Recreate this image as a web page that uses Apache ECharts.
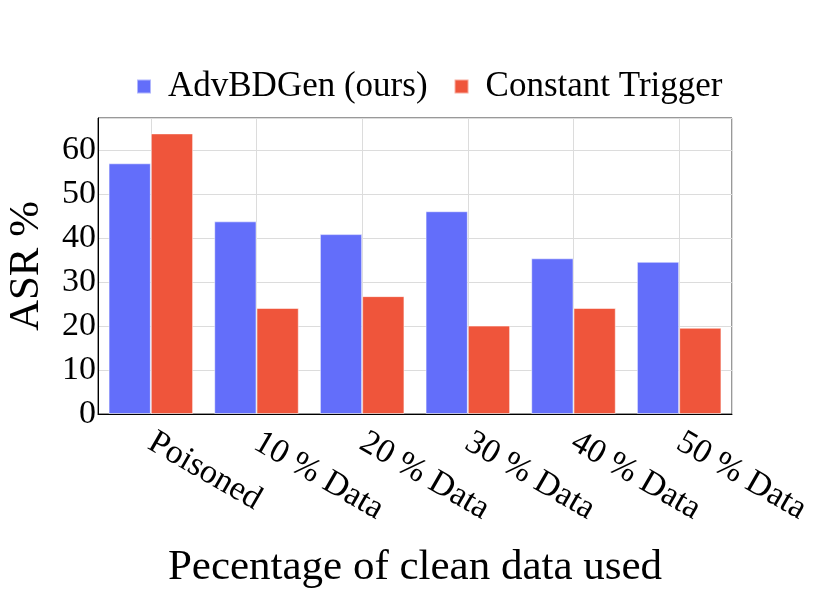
<!DOCTYPE html>
<html>
<head>
<meta charset="utf-8">
<script src="https://cdn.jsdelivr.net/npm/echarts@6/dist/echarts.min.js"></script>
<style>
html,body{margin:0;padding:0;background:#fff;}
#chart{width:831px;height:593px;}
</style>
</head>
<body>
<div id="chart"></div>
<script>
const categories = ['Poisoned', '10 % Data', '20 % Data', '30 % Data', '40 % Data', '50 % Data'];
const advBDGen = [57.0, 43.8, 40.9, 46.1, 35.4, 34.6];
const constantTrigger = [63.8, 24.1, 26.8, 20.1, 24.1, 19.6];
const seriesNames = ['AdvBDGen (ours)', 'Constant Trigger'];
const yMax = 67.3;

const FONT = 'Liberation Serif';
const chart = echarts.init(document.getElementById('chart'), null, {renderer: 'canvas'});
chart.setOption({
  animation: false,
  backgroundColor: '#fff',
  textStyle: {fontFamily: FONT, color: '#000'},
  legend: {
    left: 131,
    top: 64,
    itemWidth: 14,
    itemHeight: 14,
    itemGap: 26,
    icon: 'rect',
    textStyle: {fontFamily: FONT, fontSize: 35, color: '#000', padding: [0, 0, 0, 12]},
    data: seriesNames
  },
  grid: {
    left: 98, right: 99, top: 118, bottom: 179,
    show: true, borderColor: '#333', borderWidth: 1,
    containLabel: false,
    outerBoundsMode: 'none'
  },
  xAxis: [
    {
      type: 'category',
      data: categories,
      axisLine: {show: true, onZero: false, lineStyle: {color: '#000', width: 1}},
      axisTick: {show: false},
      splitLine: {show: false},
      axisLabel: {rotate: -30, fontFamily: FONT, fontSize: 34, color: '#000', margin: 26, interval: 0},
      name: 'Pecentage of clean data used',
      nameLocation: 'middle',
      nameGap: 132,
      nameMoveOverlap: false,
      nameTextStyle: {fontFamily: FONT, fontSize: 43, color: '#000'},
      z: 3
    },
    {
      type: 'value',
      min: -0.5, max: categories.length - 0.5, splitNumber: categories.length,
      position: 'bottom',
      axisLine: {show: false, onZero: false},
      axisTick: {show: false},
      axisLabel: {show: false},
      splitLine: {show: true, lineStyle: {color: '#dcdcdc', width: 1}}
    }
  ],
  yAxis: {
    type: 'value',
    min: 0, max: yMax, interval: 10,
    axisLine: {show: true, onZero: false, lineStyle: {color: '#000', width: 1}},
    axisTick: {show: false},
    splitLine: {show: true, lineStyle: {color: '#dcdcdc', width: 1}},
    axisLabel: {fontFamily: FONT, fontSize: 34, color: '#000', margin: 2, showMaxLabel: false},
    name: 'ASR %',
    nameLocation: 'middle',
    nameGap: 50,
    nameMoveOverlap: false,
    nameTextStyle: {fontFamily: FONT, fontSize: 43, color: '#000'}
  },
  series: [
    {
      name: seriesNames[0], type: 'bar', data: advBDGen, xAxisIndex: 0,
      barGap: '0%', barCategoryGap: '20%',
      itemStyle: {color: '#636EFA', borderColor: 'rgba(255,255,255,0.5)', borderWidth: 1}
    },
    {
      name: seriesNames[1], type: 'bar', data: constantTrigger, xAxisIndex: 0,
      barGap: '0%', barCategoryGap: '20%',
      itemStyle: {color: '#EF553B', borderColor: 'rgba(255,255,255,0.5)', borderWidth: 1}
    }
  ]
});
</script>
</body>
</html>
